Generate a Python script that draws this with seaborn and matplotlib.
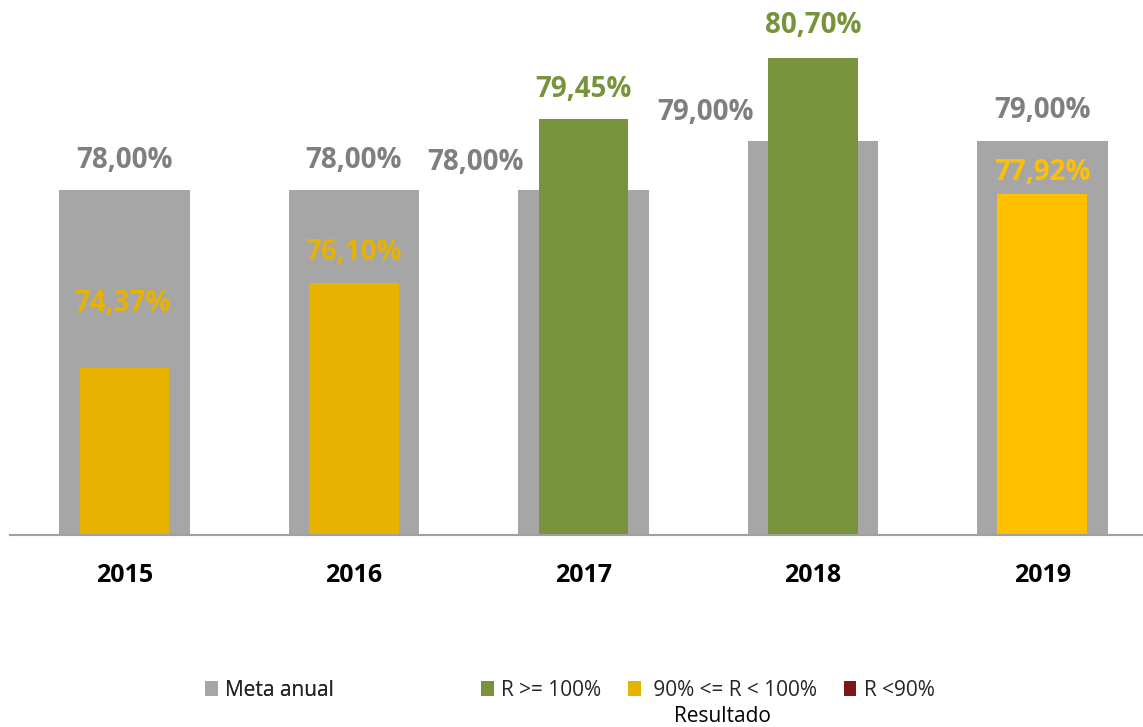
import matplotlib
matplotlib.use("Agg")
import matplotlib.pyplot as plt
import matplotlib.patches as mpatches
import seaborn as sns
import pandas as pd

# ---- data ----
years = ["2015", "2016", "2017", "2018", "2019"]
meta = [78.00, 78.00, 78.00, 79.00, 79.00]
resultado = [74.37, 76.10, 79.45, 80.70, 77.92]
meta_labels = ["78,00%", "78,00%", "78,00%", "79,00%", "79,00%"]
res_labels = ["74,37%", "76,10%", "79,45%", "80,70%", "77,92%"]
legend_meta = "Meta anual"
legend_res = ["R >= 100%", " 90% <= R < 100%", "R <90%"]
legend_title = "Resultado"

# ---- styles ----
GRAY = "#A6A6A6"
GRAY_TXT = "#7F7F7F"
GREEN = "#77933C"
YELLOW_D = "#E8B200"
YELLOW = "#FFC000"
DARKRED = "#7B1717"
res_colors = [YELLOW_D, YELLOW_D, GREEN, GREEN, YELLOW]
# label offsets in pixels (dx, dy above bar top)
meta_off = [(0, 30), (0, 30), (-108, 28), (-107, 29), (0, 31)]
res_off = [(-2, 64), (0, 31), (0, 30), (0, 32), (0, 22)]

sns.set_theme(style="white")
plt.rcParams["font.family"] = ["Open Sans", "DejaVu Sans"]

fig = plt.figure(figsize=(11.43, 7.27), dpi=100)
ax = fig.add_axes([10 / 1143, 1 - 535 / 727, 1 - 10 / 1143, 535 / 727])

df = pd.DataFrame({"year": years, "meta": meta, "res": resultado})
sns.barplot(data=df, x="year", y="meta", color=GRAY, width=0.570,
            saturation=1, ax=ax, zorder=1, linewidth=0, edgecolor="none")
sns.barplot(data=df, x="year", y="res", hue="year", palette=res_colors,
            width=0.392, saturation=1, legend=False, ax=ax, zorder=2,
            linewidth=0, edgecolor="none")

ax.set_ylim(70.96, 81.88)
ax.set_xlim(-0.4989, 4.438)
ax.set_xlabel("")
ax.set_ylabel("")
ax.set_yticks([])
for s in ["top", "left", "right"]:
    ax.spines[s].set_visible(False)
ax.spines["bottom"].set_color("#A0A0A0")
ax.spines["bottom"].set_linewidth(1.5)
ax.tick_params(axis="x", length=0, pad=20)
for lbl in ax.get_xticklabels():
    lbl.set_fontsize(18)
    lbl.set_fontweight("bold")
    lbl.set_color("black")

for i, (v, t) in enumerate(zip(meta, meta_labels)):
    dx, dy = meta_off[i]
    ax.annotate(t, (i, v), xytext=(dx, dy), textcoords="offset pixels",
                ha="center", va="center", fontsize=20, fontweight="bold",
                color=GRAY_TXT, zorder=5)
for i, (v, t) in enumerate(zip(resultado, res_labels)):
    dx, dy = res_off[i]
    ax.annotate(t, (i, v), xytext=(dx, dy), textcoords="offset pixels",
                ha="center", va="center", fontsize=20, fontweight="bold",
                color=res_colors[i], zorder=5)

# ---- legends ----
h1 = [mpatches.Patch(color=GRAY, linewidth=0)]
leg1 = fig.legend(h1, [legend_meta], loc="center left",
                  bbox_to_anchor=(205 / 1143, 1 - 690 / 727), frameon=False,
                  fontsize=15, handlelength=0.6, handleheight=0.7,
                  handletextpad=0.35, borderpad=0, borderaxespad=0)
h2 = [mpatches.Patch(color=c, linewidth=0) for c in [GREEN, YELLOW_D, DARKRED]]
leg2 = fig.legend(h2, legend_res, loc="center left", ncol=3,
                  bbox_to_anchor=(481 / 1143, 1 - 690 / 727), frameon=False,
                  fontsize=15, handlelength=0.6, handleheight=0.7,
                  handletextpad=0.35, columnspacing=1.3, borderpad=0,
                  borderaxespad=0)
fig.add_artist(leg1)
fig.text(722 / 1143, 1 - 717 / 727, legend_title, ha="center", va="center",
         fontsize=15, color="black")

fig.savefig("out.png", dpi=100)
